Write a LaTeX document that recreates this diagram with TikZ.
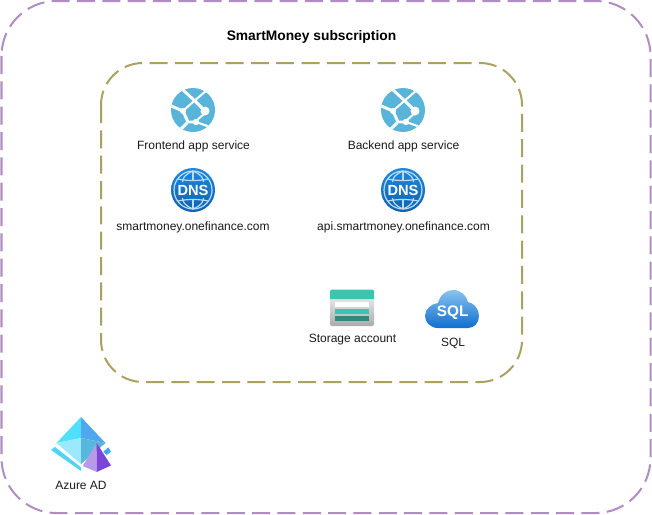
\documentclass[tikz,border=0pt]{standalone}
\usepackage{fontspec}
\setmainfont{Liberation Sans}
\definecolor{outerc}{HTML}{B08CC4}
\definecolor{innerc}{HTML}{ABA262}
\definecolor{appc}{HTML}{59B4D9}
\definecolor{txtc}{HTML}{1A1A1A}
\definecolor{dnstop}{HTML}{1E88DC}
\definecolor{dnsbot}{HTML}{0F62B0}
\definecolor{dnsline}{HTML}{B8DCF5}
\definecolor{stotop}{HTML}{E4E4E4}
\definecolor{stobot}{HTML}{ABABAB}
\definecolor{teal}{HTML}{3CC4AF}
\definecolor{dkteal}{HTML}{2E8B7C}
\definecolor{sqltop}{HTML}{89C2F0}
\definecolor{sqlbot}{HTML}{0F6FD0}
\definecolor{adcyan}{HTML}{50E0FF}
\definecolor{adblue}{HTML}{4FA8EE}
\definecolor{adpale}{HTML}{9BE8FF}
\definecolor{adteal}{HTML}{55B8DC}
\definecolor{adstrip}{HTML}{50D4F5}
\definecolor{adstripb}{HTML}{3FA9EE}
\definecolor{pyrl}{HTML}{B79AE8}
\definecolor{pyrr}{HTML}{7B45D8}
\tikzset{
  x=0.75pt,y=-0.75pt,
  lbl/.style={inner sep=0pt,text=txtc,font=\fontsize{9}{11}\selectfont},
  ttl/.style={inner sep=0pt,text=black,font=\fontsize{10.35}{12}\selectfont\bfseries},
  icontxt/.style={inner sep=0pt,text=white,font=\fontsize{11}{12}\selectfont\bfseries},
  zone/.style={line width=1.5pt,dash pattern=on 13.5pt off 5.5pt},
  globe/.style={draw=dnsline,line width=0.9pt},
  appwire/.style={draw=white,line width=2.2pt,line join=round},
  appthin/.style={draw=white,line width=1.5pt},
  appicon/.pic={
    \fill[appc] (0,0) circle (22);
    \begin{scope}
      \clip (0,0) circle (22);
      \draw[appwire] (-15,-25) -- (-10,-20) -- (2,-9) -- (12,1);
      \draw[appwire] (-24,-5) -- (-10,1);
      \draw[appthin] (14,-20) -- (0,-8) -- (-9,0);
      \draw[appwire] (-10,1) -- (-5,12) -- (3,12);
      \draw[appwire] (-6,13) -- (-17,24);
      \draw[appthin] (12,3) -- (3,11);
      \draw[appthin] (3,12) -- (20,18);
      \fill[white] (12,1) circle (4.5);
      \fill[white] (-10,1) circle (3);
      \fill[white] (3,12) circle (3.2);
    \end{scope}
  },
  dnsicon/.pic={
    \shade[top color=dnstop,bottom color=dnsbot] (0,0) circle (22);
    \draw[dnsline,line width=0.9pt] (0,0) circle (19);
    \draw[globe] (0,-19) -- (0,-9) (0,9) -- (0,19);
    \draw[globe] (0,-19) .. controls (-9,-15) and (-10,-12) .. (-10.5,-8);
    \draw[globe] (0,-19) .. controls (9,-15) and (10,-12) .. (10.5,-8);
    \draw[globe] (0,19) .. controls (-9,15) and (-10,12) .. (-10.5,8);
    \draw[globe] (0,19) .. controls (9,15) and (10,12) .. (10.5,8);
    \draw[globe] (-15,-11) .. controls (-6,-9) and (6,-9) .. (15,-11);
    \draw[globe] (-15,11) .. controls (-6,9) and (6,9) .. (15,11);
    \node[icontxt] (-pic-text) at (0,0.5) {DNS};
  },
  storageicon/.pic={
    \shade[top color=stotop,bottom color=stobot] (-22,-9) -- (22,-9) -- (22,16) arc (0:90:2) -- (-20,18) arc (90:180:2) -- cycle;
    \fill[teal] (-22,-9) -- (-22,-17) arc (180:270:1.5) -- (20.5,-18.5) arc (-90:0:1.5) -- (22,-9) -- cycle;
    \fill[white] (-17,-6.5) rectangle (16.5,-1);
    \fill[teal] (-17,0.5) rectangle (16.5,5.5);
    \fill[dkteal] (-17,7.5) rectangle (16.5,12.5);
  },
  sqlicon/.pic={
    \shade[top color=sqltop,bottom color=sqlbot]
      (-14,19) .. controls (-22,19) and (-27,13) .. (-27,7)
      .. controls (-27,0) and (-21,-5) .. (-14,-6)
      .. controls (-12,-14) and (-6,-19) .. (1,-19)
      .. controls (9,-19) and (14,-14) .. (16,-7)
      .. controls (22,-6) and (27,0) .. (27,7)
      .. controls (27,14) and (22,19) .. (16,19) -- cycle;
    \node[icontxt,font=\fontsize{11.5}{12}\selectfont\bfseries] (-pic-text) at (0.7,4) {SQL};
  },
  adicon/.pic={
    \fill[adstrip] (-30,33) -- (-26,30) -- (0,50.3) -- (0,54) -- cycle;
    \fill[adstripb] (22.3,34.7) -- (27.3,30.3) -- (30,34.7) -- (25.7,38) -- cycle;
    \fill[adcyan] (0,0) -- (0,21) -- (-24.5,26) -- cycle;
    \fill[adblue] (0,0) -- (0,21) -- (24.5,26) -- cycle;
    \fill[adpale] (-24.5,26) -- (0,21) -- (0,47) -- cycle;
    \fill[adteal] (24.5,26) -- (0,21) -- (0,47) -- cycle;
    \fill[pyrl] (15.7,26) -- (1.7,49) -- (15.7,55) -- cycle;
    \fill[pyrr] (15.7,26) -- (30,48.5) -- (15.7,55) -- cycle;
  }
}
\begin{document}
\begin{tikzpicture}
  \useasboundingbox (0,0) rectangle (652,514);
  \draw[zone,draw=outerc,rounded corners=41.25pt] (1.5,1) rectangle (650.5,513);
  \draw[zone,draw=innerc,rounded corners=31.5pt] (101,63) rectangle (522,382);
  \node[ttl] (title) at (311.5,36.5) {SmartMoney subscription};
  \pic (feapp) at (193,110) {appicon};
  \pic (beapp) at (403,110) {appicon};
  \pic (fedns) at (193,190) {dnsicon};
  \pic (bedns) at (403,190) {dnsicon};
  \pic (store) at (352,308) {storageicon};
  \pic (sql) at (452,309) {sqlicon};
  \pic (ad) at (81,417) {adicon};
  \node[lbl] (felabel) at (193.5,146.5) {Frontend app service};
  \node[lbl] (belabel) at (403.5,146.5) {Backend app service};
  \node[lbl] (fednslabel) at (193,227) {smartmoney.onefinance.com};
  \node[lbl] (bednslabel) at (403.5,227) {api.smartmoney.onefinance.com};
  \node[lbl] (storelabel) at (352.5,339.5) {Storage account};
  \node[lbl] (sqllabel) at (453,343) {SQL};
  \node[lbl] (adlabel) at (81,485) {Azure AD};
\end{tikzpicture}
\end{document}
